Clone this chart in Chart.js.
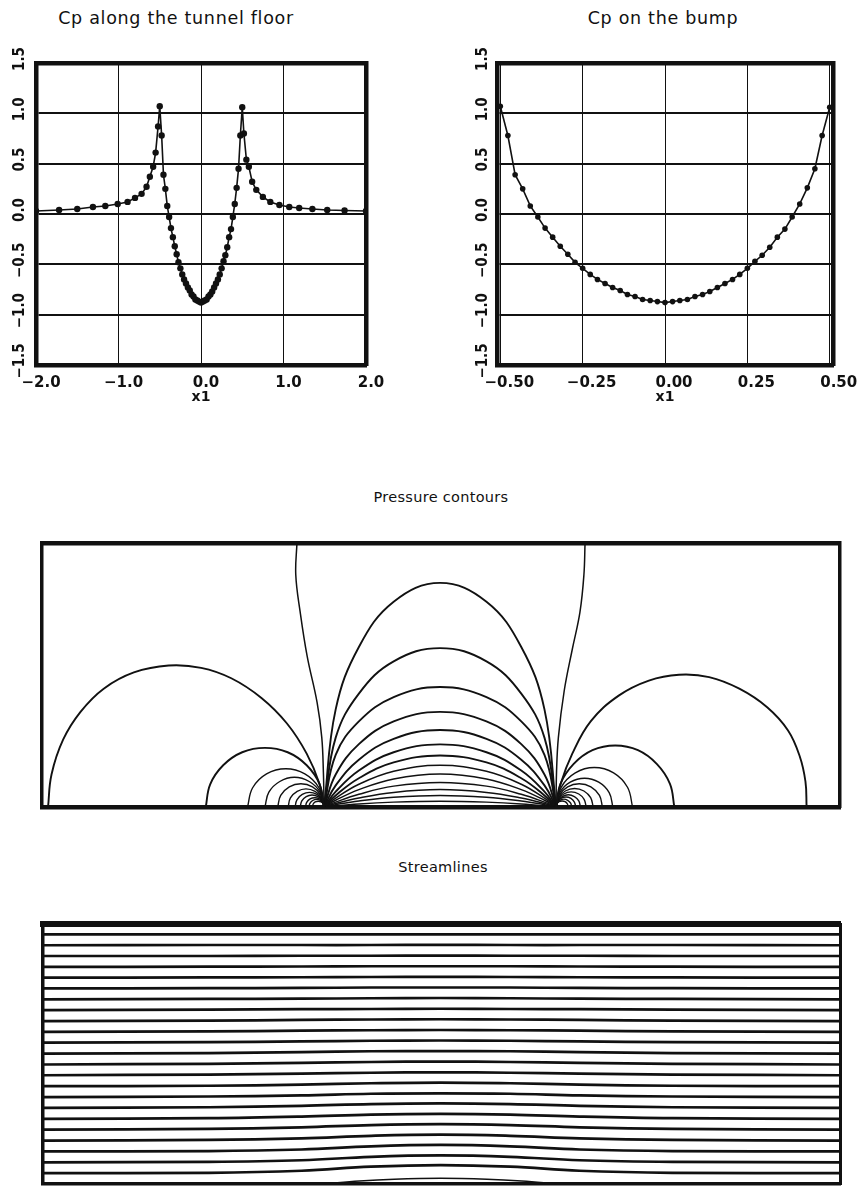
<!DOCTYPE html>
<html>
<head>
<meta charset="utf-8">
<script src="https://cdn.jsdelivr.net/npm/chart.js@4.4.1/dist/chart.umd.min.js"></script>
<style>
  html, body { margin: 0; padding: 0; background: #fff; }
  body { width: 862px; height: 1187px; position: relative; overflow: hidden;
         font-family: "DejaVu Sans", sans-serif; color: #111; }
  .title { position: absolute; line-height: 20px; white-space: nowrap; transform: translateX(-50%); }
  .top-title { font-size: 17.5px; letter-spacing: 0.7px; }
  .mid-title { font-size: 14.5px; letter-spacing: 0.3px; }
  .box { position: absolute; }
</style>
</head>
<body>
<div class="title top-title" style="left:176px; top:8px;">Cp along the tunnel floor</div>
<div class="title top-title" style="left:663px; top:8px;">Cp on the bump</div>
<div class="title mid-title" style="left:441px; top:487px;">Pressure contours</div>
<div class="title mid-title" style="left:443px; top:857px;">Streamlines</div>

<div class="box" style="left:0; top:40px;"><canvas id="floorChart" width="430" height="370"></canvas></div>
<div class="box" style="left:430px; top:40px;"><canvas id="bumpChart" width="432" height="370"></canvas></div>
<div class="box" style="left:0; top:520px;"><canvas id="contourChart" width="862" height="300"></canvas></div>
<div class="box" style="left:0; top:900px;"><canvas id="streamChart" width="862" height="287"></canvas></div>

<script>
// ---- Cp axes ----
const cpTicks = [-1.5, -1.0, -0.5, 0.0, 0.5, 1.0, 1.5];
const floorTicks = [-2.0, -1.0, 0.0, 1.0, 2.0];
const bumpTicks = [-0.50, -0.25, 0.00, 0.25, 0.50];

// ---- Cp on the bump surface (x1 from -0.5 to 0.5) ----
const bumpX = [-0.500, -0.477, -0.455, -0.432, -0.409, -0.386, -0.364, -0.341, -0.318, -0.295,
               -0.273, -0.250, -0.227, -0.205, -0.182, -0.159, -0.136, -0.114, -0.091, -0.068,
               -0.045, -0.023, 0.000, 0.023, 0.045, 0.068, 0.091, 0.114, 0.136, 0.159,
               0.182, 0.205, 0.227, 0.250, 0.273, 0.295, 0.318, 0.341, 0.364, 0.386,
               0.409, 0.432, 0.455, 0.477, 0.500];
const bumpCp = [1.07, 0.78, 0.39, 0.25, 0.08, -0.03, -0.14, -0.23, -0.32, -0.40,
                -0.48, -0.54, -0.60, -0.65, -0.69, -0.73, -0.76, -0.80, -0.82, -0.85,
                -0.86, -0.87, -0.88, -0.87, -0.86, -0.85, -0.82, -0.80, -0.77, -0.73,
                -0.69, -0.65, -0.60, -0.54, -0.47, -0.41, -0.33, -0.23, -0.15, -0.03,
                0.10, 0.26, 0.45, 0.78, 1.06];

// ---- Cp on the flat floor upstream and downstream of the bump ----
const upstreamX = [-2.00, -1.72, -1.50, -1.31, -1.16, -1.01, -0.89, -0.80, -0.72, -0.66, -0.62, -0.58, -0.55, -0.52];
const upstreamCp = [0.03, 0.04, 0.05, 0.07, 0.08, 0.10, 0.12, 0.16, 0.20, 0.27, 0.37, 0.47, 0.61, 0.87];
const downstreamX = [0.52, 0.55, 0.58, 0.62, 0.67, 0.75, 0.84, 0.95, 1.07, 1.19, 1.35, 1.53, 1.74, 2.00];
const downstreamCp = [0.80, 0.54, 0.47, 0.32, 0.24, 0.17, 0.12, 0.09, 0.07, 0.06, 0.05, 0.04, 0.035, 0.03];

// ---- Pressure contours (tunnel coordinates, bump chord = 1) ----
// high-pressure lobes ending at the bump leading edge
const leftLobes = [
  [[-1.69,0],[-1.675,0.14],[-1.625,0.29],[-1.55,0.41],[-1.45,0.51],[-1.32,0.58],[-1.17,0.61],[-1.03,0.60],[-0.90,0.555],[-0.77,0.47],[-0.66,0.36],[-0.575,0.23],[-0.52,0.10],[-0.5,0]],
  [[-1.01,0],[-0.991,0.098],[-0.935,0.18],[-0.853,0.236],[-0.755,0.255],[-0.657,0.236],[-0.575,0.18],[-0.519,0.098],[-0.5,0]],
  [[-0.83,0],[-0.808,0.083],[-0.748,0.143],[-0.665,0.165],[-0.583,0.143],[-0.522,0.083],[-0.5,0]],
  [[-0.755,0],[-0.738,0.064],[-0.691,0.110],[-0.628,0.128],[-0.564,0.110],[-0.517,0.064],[-0.5,0]],
  [[-0.70,0],[-0.687,0.05],[-0.65,0.087],[-0.60,0.10],[-0.55,0.087],[-0.513,0.05],[-0.5,0]],
  [[-0.655,0],[-0.645,0.039],[-0.616,0.067],[-0.578,0.078],[-0.539,0.067],[-0.510,0.039],[-0.5,0]],
  [[-0.625,0],[-0.617,0.031],[-0.594,0.054],[-0.563,0.063],[-0.531,0.054],[-0.508,0.031],[-0.5,0]],
  [[-0.603,0],[-0.596,0.026],[-0.577,0.045],[-0.552,0.052],[-0.526,0.045],[-0.507,0.026],[-0.5,0]],
  [[-0.58,0],[-0.575,0.02],[-0.56,0.035],[-0.54,0.04],[-0.52,0.035],[-0.505,0.02],[-0.5,0]],
  [[-0.565,0],[-0.561,0.016],[-0.549,0.028],[-0.533,0.033],[-0.516,0.028],[-0.504,0.016],[-0.5,0]],
  [[-0.55,0],[-0.547,0.013],[-0.538,0.022],[-0.525,0.025],[-0.513,0.022],[-0.503,0.013],[-0.5,0]]
];
// lobes behind the bump trailing edge
const rightLobes = [
  [[0.5,0],[0.52,0.10],[0.57,0.23],[0.65,0.37],[0.77,0.48],[0.90,0.545],[1.03,0.57],[1.16,0.56],[1.29,0.51],[1.41,0.43],[1.50,0.33],[1.55,0.22],[1.575,0.11],[1.58,0]],
  [[0.5,0],[0.519,0.10],[0.575,0.185],[0.657,0.245],[0.755,0.265],[0.853,0.245],[0.935,0.185],[0.991,0.10],[1.01,0]],
  [[0.5,0],[0.522,0.085],[0.583,0.147],[0.665,0.17],[0.748,0.147],[0.808,0.085],[0.83,0]],
  [[0.5,0],[0.516,0.062],[0.561,0.107],[0.623,0.124],[0.684,0.107],[0.729,0.062],[0.745,0]],
  [[0.5,0],[0.513,0.05],[0.55,0.087],[0.60,0.10],[0.65,0.087],[0.687,0.05],[0.70,0]],
  [[0.5,0],[0.511,0.04],[0.54,0.069],[0.58,0.08],[0.62,0.069],[0.649,0.04],[0.66,0]],
  [[0.5,0],[0.509,0.033],[0.533,0.056],[0.565,0.065],[0.598,0.056],[0.621,0.033],[0.63,0]],
  [[0.5,0],[0.507,0.026],[0.526,0.045],[0.553,0.053],[0.579,0.045],[0.598,0.026],[0.605,0]],
  [[0.5,0],[0.506,0.021],[0.521,0.037],[0.543,0.043],[0.564,0.037],[0.579,0.021],[0.585,0]],
  [[0.5,0],[0.504,0.017],[0.517,0.029],[0.534,0.034],[0.550,0.029],[0.563,0.017],[0.567,0]],
  [[0.5,0],[0.503,0.013],[0.513,0.023],[0.526,0.026],[0.539,0.023],[0.549,0.013],[0.552,0]]
];
// Cp = 0 lines running from the bump edges to the top wall
const zeroLines = [
  [[-0.5,0],[-0.503,0.15],[-0.51,0.30],[-0.53,0.45],[-0.573,0.65],[-0.603,0.84],[-0.622,1.0],[-0.617,1.138]],
  [[0.5,0],[0.502,0.15],[0.51,0.30],[0.535,0.50],[0.57,0.68],[0.603,0.84],[0.62,1.0],[0.625,1.138]]
];
// suction arches over the bump, sampled at archX
const archX = [-0.5, -0.45, -0.35, -0.2, 0, 0.2, 0.35, 0.45, 0.5];
const arches = [
  [0, 0.421, 0.690, 0.885, 0.966, 0.885, 0.690, 0.421, 0],
  [0, 0.299, 0.489, 0.628, 0.685, 0.628, 0.489, 0.299, 0],
  [0, 0.225, 0.369, 0.474, 0.517, 0.474, 0.369, 0.225, 0],
  [0, 0.140, 0.271, 0.369, 0.410, 0.369, 0.271, 0.140, 0],
  [0, 0.093, 0.204, 0.294, 0.332, 0.294, 0.204, 0.093, 0],
  [0, 0.066, 0.157, 0.236, 0.270, 0.236, 0.157, 0.066, 0],
  [0, 0.050, 0.124, 0.192, 0.222, 0.192, 0.124, 0.050, 0],
  [0, 0.038, 0.098, 0.154, 0.180, 0.154, 0.098, 0.038, 0],
  [0, 0.029, 0.075, 0.121, 0.142, 0.121, 0.075, 0.029, 0],
  [0, 0.021, 0.055, 0.090, 0.106, 0.090, 0.055, 0.021, 0],
  [0, 0.015, 0.039, 0.063, 0.075, 0.063, 0.039, 0.015, 0],
  [0, 0.010, 0.026, 0.042, 0.050, 0.042, 0.026, 0.010, 0]
];
// bump profile on the floor
const bumpShapeX = [-0.5, -0.35, -0.2, 0, 0.2, 0.35, 0.5];
const bumpShapeY = [0, 0.013, 0.021, 0.025, 0.021, 0.013, 0];

// ---- Streamlines, sampled at streamX ----
const streamX = [-1.72, -1.0, -0.6, -0.3, 0, 0.3, 0.6, 1.0, 1.72];
const streamlines = [
  [0.048, 0.049, 0.058, 0.076, 0.083, 0.076, 0.058, 0.049, 0.048],
  [0.095, 0.097, 0.104, 0.119, 0.125, 0.119, 0.104, 0.097, 0.095],
  [0.143, 0.144, 0.151, 0.165, 0.171, 0.165, 0.151, 0.144, 0.143],
  [0.190, 0.193, 0.200, 0.211, 0.216, 0.211, 0.200, 0.193, 0.190],
  [0.238, 0.241, 0.248, 0.258, 0.262, 0.258, 0.248, 0.241, 0.238],
  [0.285, 0.288, 0.295, 0.304, 0.307, 0.304, 0.295, 0.288, 0.285],
  [0.333, 0.336, 0.342, 0.350, 0.353, 0.350, 0.342, 0.336, 0.333],
  [0.380, 0.383, 0.388, 0.395, 0.397, 0.395, 0.388, 0.383, 0.380],
  [0.428, 0.430, 0.435, 0.441, 0.444, 0.441, 0.435, 0.430, 0.428],
  [0.476, 0.479, 0.483, 0.487, 0.489, 0.487, 0.483, 0.479, 0.476],
  [0.523, 0.526, 0.530, 0.534, 0.536, 0.534, 0.530, 0.526, 0.523],
  [0.571, 0.573, 0.577, 0.581, 0.582, 0.581, 0.577, 0.573, 0.571],
  [0.619, 0.621, 0.624, 0.627, 0.628, 0.627, 0.624, 0.621, 0.619],
  [0.666, 0.668, 0.671, 0.673, 0.674, 0.673, 0.671, 0.668, 0.666],
  [0.713, 0.715, 0.718, 0.720, 0.721, 0.720, 0.718, 0.715, 0.713],
  [0.761, 0.763, 0.765, 0.766, 0.767, 0.766, 0.765, 0.763, 0.761],
  [0.808, 0.810, 0.811, 0.813, 0.814, 0.813, 0.811, 0.810, 0.808],
  [0.856, 0.857, 0.858, 0.860, 0.860, 0.860, 0.858, 0.857, 0.856],
  [0.903, 0.904, 0.905, 0.906, 0.907, 0.906, 0.905, 0.904, 0.903],
  [0.950, 0.951, 0.952, 0.953, 0.953, 0.953, 0.952, 0.951, 0.950],
  [0.998, 0.998, 0.999, 0.999, 1.000, 0.999, 0.999, 0.998, 0.998],
  [1.045, 1.046, 1.046, 1.046, 1.047, 1.046, 1.046, 1.046, 1.045],
  [1.093, 1.093, 1.093, 1.093, 1.093, 1.093, 1.093, 1.093, 1.093]
];

// tunnel extent used by the contour and streamline panels
const tunnelX = [-1.716, 1.724];
const tunnelY = [0, 1.138];

// ---------------------------------------------------------------
const INK = '#111';
const fmt = (v, d) => (v < 0 ? '\u2212' : '') + Math.abs(v).toFixed(d);
const zip = (xs, ys) => xs.map((x, i) => ({ x: x, y: ys[i] }));
const pairs = pts => pts.map(p => ({ x: p[0], y: p[1] }));

// axes whose only job is to draw the top and right frame edges
function frameAxis(pos, width) {
  const horiz = pos === 'top';
  return {
    type: 'linear', position: pos, display: true,
    ticks: { display: false }, grid: { display: false },
    border: { display: true, color: INK, width: width },
    afterFit: s => { if (horiz) s.height = 0; else s.width = 0; }
  };
}

function cpChart(id, xs, ys, xr, xTicks, digits, yAxisWidth, padRight, yLabelPad, xLabelOffset, radius) {
  return new Chart(document.getElementById(id), {
    type: 'line',
    data: { datasets: [{
      data: zip(xs, ys), borderColor: INK, borderWidth: 1.6, tension: 0,
      pointRadius: radius, pointBackgroundColor: INK, pointBorderWidth: 0, fill: false
    }]},
    options: {
      responsive: false, animation: false, events: [],
      layout: { padding: { left: 0, right: padRight, top: 23, bottom: 0 } },
      plugins: { legend: { display: false }, tooltip: { enabled: false } },
      scales: {
        x: {
          type: 'linear', min: xr[0], max: xr[1],
          afterBuildTicks: s => { s.ticks = xTicks.map(v => ({ value: v })); },
          afterFit: s => { s.height = 45; },
          ticks: { autoSkip: false, maxRotation: 0, padding: 9, labelOffset: xLabelOffset, color: INK,
                   font: { family: 'DejaVu Sans', size: 15, weight: 'bold' },
                   callback: v => fmt(v, digits) },
          grid: { color: INK, lineWidth: 1, drawTicks: false },
          border: { display: true, color: INK, width: 4.5 },
          title: { display: true, text: 'x1', color: INK, padding: { top: 0, bottom: 4 },
                   font: { family: 'DejaVu Sans', size: 14, weight: 'bold' } }
        },
        y: {
          type: 'linear', min: -1.5, max: 1.5,
          afterBuildTicks: s => { s.ticks = cpTicks.map(v => ({ value: v })); },
          afterFit: s => { s.width = yAxisWidth; },
          ticks: { autoSkip: false, minRotation: 90, maxRotation: 90, crossAlign: 'center',
                   padding: yLabelPad, labelOffset: -4, color: INK,
                   font: { family: '"Liberation Sans Narrow", "DejaVu Sans Condensed", sans-serif', size: 15, weight: 'bold' },
                   callback: v => fmt(v, 1) },
          grid: { color: INK, lineWidth: 2, drawTicks: false },
          border: { display: true, color: INK, width: 4.5 }
        },
        x2: frameAxis('top', 4.5),
        y2: frameAxis('right', 4.5)
      }
    }
  });
}

cpChart('floorChart',
  upstreamX.concat(bumpX, downstreamX), upstreamCp.concat(bumpCp, downstreamCp),
  [-2, 2], floorTicks, 1, 36, 64, -2, 5, 3.2);
cpChart('bumpChart', bumpX, bumpCp, [-0.51, 0.51], bumpTicks, 2, 67, 29, -4, 9, 2.8);

function fieldChart(id, datasets, pad, frame) {
  return new Chart(document.getElementById(id), {
    type: 'line',
    data: { datasets: datasets },
    options: {
      responsive: false, animation: false, events: [],
      layout: { padding: pad },
      plugins: { legend: { display: false }, tooltip: { enabled: false } },
      elements: { point: { radius: 0 }, line: { tension: 0.4, borderColor: INK, fill: false } },
      scales: {
        x: { type: 'linear', min: tunnelX[0], max: tunnelX[1], ticks: { display: false },
             grid: { display: false }, border: { display: true, color: INK, width: frame.bottom },
             afterFit: s => { s.height = 0; } },
        y: { type: 'linear', min: tunnelY[0], max: tunnelY[1], ticks: { display: false },
             grid: { display: false }, border: { display: true, color: INK, width: frame.left },
             afterFit: s => { s.width = 0; } },
        x2: frameAxis('top', frame.top),
        y2: frameAxis('right', frame.right)
      }
    }
  });
}

const curve = (data, w) => ({ data: data, borderColor: INK, borderWidth: w, pointRadius: 0, tension: 0.4 });

const contourSets = []
  .concat(leftLobes.map((c, i) => curve(pairs(c), i < 2 ? 1.9 : 1.4)))
  .concat(rightLobes.map((c, i) => curve(pairs(c), i < 2 ? 1.9 : 1.4)))
  .concat(zeroLines.map(c => curve(pairs(c), 1.5)))
  .concat(arches.map((ys, i) => curve(zip(archX, ys), i < 7 ? 1.9 : 1.5)))
  .concat([curve(zip(bumpShapeX, bumpShapeY), 1.4)]);

fieldChart('contourChart', contourSets, { left: 42, right: 22, top: 23, bottom: 13 },
           { top: 4.5, bottom: 4.5, left: 3.5, right: 3.5 });

const streamSets = streamlines.map(ys => curve(zip(streamX, ys), 2.7))
  .concat([curve(zip(bumpShapeX, bumpShapeY), 1.6)]);

fieldChart('streamChart', streamSets, { left: 43, right: 22, top: 24, bottom: 3 },
           { top: 6, bottom: 3.5, left: 3.5, right: 3 });
</script>
</body>
</html>
